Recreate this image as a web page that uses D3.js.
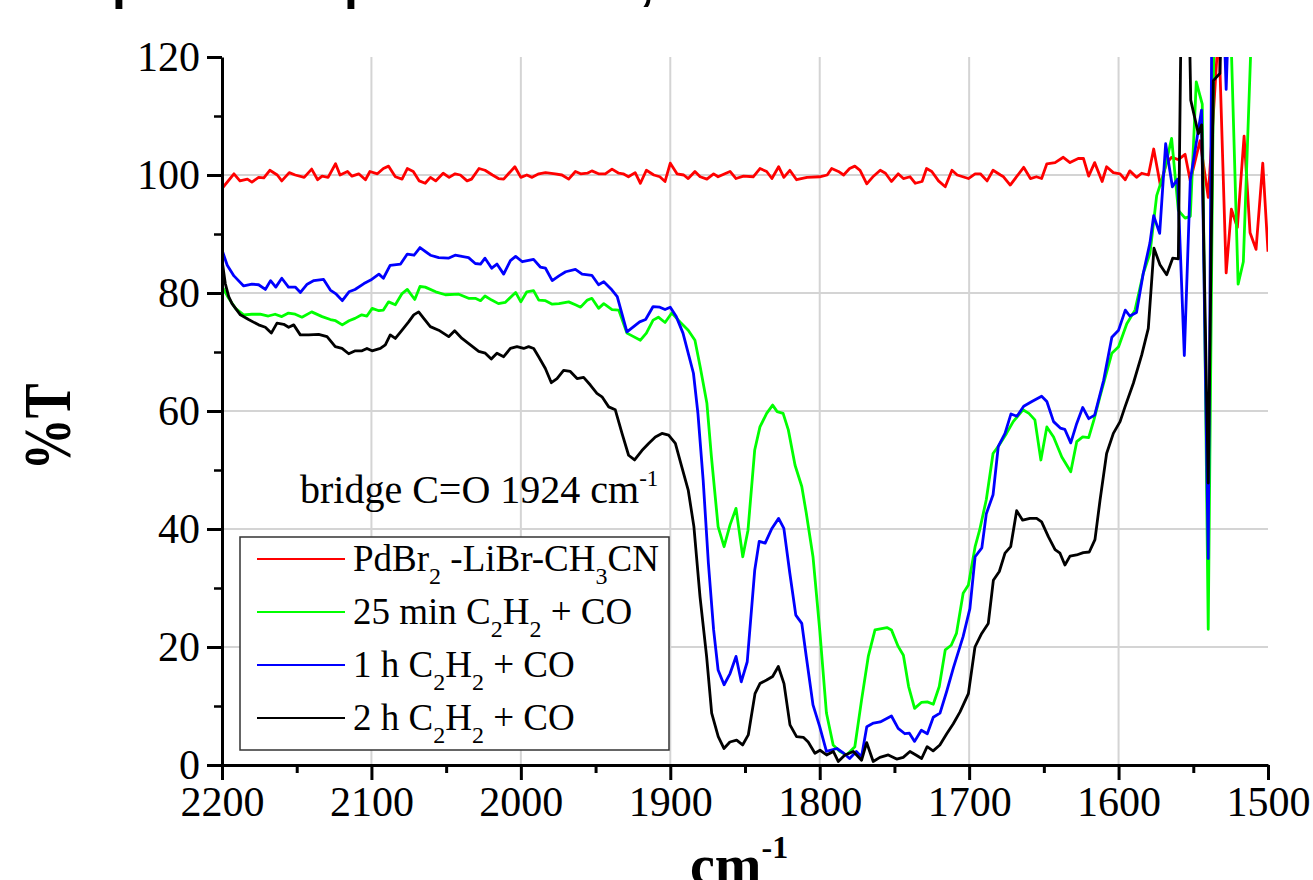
<!DOCTYPE html>
<html>
<head>
<meta charset="utf-8">
<script src="https://cdn.jsdelivr.net/npm/d3@7"></script>
<style>
  body { margin: 0; background: #fff; }
  svg { display: block; }
  svg text { font-family: "Liberation Serif", "Times New Roman", serif; }
  svg text.title-bit { font-family: "Liberation Sans", Arial, sans-serif; }
</style>
</head>
<body>
<div id="chart"></div>
<script>
"use strict";

// Axis ticks
const xTicks = [2200, 2100, 2000, 1900, 1800, 1700, 1600, 1500];
const xMinorTicks = [2150, 2050, 1950, 1850, 1750, 1650, 1550];
const yTicks = [0, 20, 40, 60, 80, 100, 120];
const yMinorTicks = [10, 30, 50, 70, 90, 110];

// Spectra: [wavenumber cm-1, %T]
const pdbrData = [
    [2200, 97.7], [2192, 100.2], [2188, 99.0], [2183, 99.3], [2180, 98.8], [2175.5, 99.6], [2172, 99.5], [2168, 100.8],
    [2163, 100], [2160, 99.0], [2155, 100.4], [2151, 100], [2145, 99.6], [2140, 101], [2136, 99.2], [2133, 99.8],
    [2129, 99.6], [2124, 101.9], [2121, 100], [2116, 100.6], [2113, 99.8], [2108.5, 100.2], [2104, 99.2], [2101, 100.6],
    [2096, 100.2], [2092, 101.1], [2088.5, 101.5], [2084, 99.7], [2079.5, 99.3], [2076, 101.1], [2072, 100.6], [2068, 99.0],
    [2064, 98.6], [2060.5, 99.6], [2057, 99.0], [2052, 100.3], [2048, 99.6], [2044, 100.2], [2040.5, 100], [2036, 99.0],
    [2033, 99.3], [2028, 101.1], [2024, 100.8], [2019, 100], [2015, 99.4], [2011.5, 99.3], [2008, 100.3], [2004, 101.4],
    [2000, 99.6], [1996, 100], [1992.5, 99.6], [1988, 100.2], [1983.5, 100.4], [1977, 100.2], [1972.5, 100], [1968, 99.3],
    [1963.5, 100.6], [1960, 100.2], [1955.5, 100.3], [1952.5, 100.7], [1948, 100.2], [1943.5, 100.2], [1939, 101], [1934.5, 100.3],
    [1931.5, 100.2], [1928, 99.7], [1923.5, 100.4], [1920, 98.6], [1916, 100.8], [1911, 100], [1907, 99.7], [1903.5, 98.9],
    [1900, 102], [1895.5, 100.2], [1891, 100], [1888, 99.4], [1883.5, 100.6], [1880, 99.7], [1875.5, 99.3], [1871, 100.2],
    [1868, 99.7], [1863.5, 100.2], [1860, 100.6], [1856, 99.4], [1851, 99.8], [1844.5, 99.7], [1840, 101.1], [1835.5, 100.6],
    [1832, 99.4], [1827.5, 101.4], [1824, 99.6], [1820, 100.8], [1815.5, 99.2], [1808.5, 99.6], [1800, 99.7], [1795, 100],
    [1792, 101.1], [1787.5, 100.6], [1784, 100], [1780, 101.1], [1776.5, 101.5], [1773, 100.8], [1768.5, 98.5], [1764, 99.8],
    [1759.5, 100.8], [1756, 100.3], [1752, 98.9], [1747.5, 100.2], [1744, 99.4], [1739.5, 99.7], [1736, 98.6], [1731.5, 98.9],
    [1728.5, 101.1], [1725, 100.6], [1720.5, 99.0], [1716, 98.0], [1711.5, 100.8], [1708, 100], [1700.5, 99.4], [1696, 100.2],
    [1692.5, 100.2], [1688, 99.0], [1684, 100.8], [1679, 100], [1677, 99.7], [1672.5, 98.3], [1668, 99.8], [1663.5, 101.3],
    [1659, 99.4], [1655, 99.7], [1651.5, 99.4], [1648, 101.9], [1642.5, 102.1], [1637, 103], [1632.5, 102.1], [1627, 102.8],
    [1623.5, 102.8], [1620, 99.8], [1616, 102.1], [1611, 98.9], [1608, 101.4], [1603.5, 100.4], [1599, 100.2], [1595.5, 99.2],
    [1592.5, 100.7], [1588, 99.6], [1584.5, 100.3], [1580, 100], [1576.5, 104.4], [1572, 98.2], [1568, 102], [1564.5, 103],
    [1560, 102.6], [1555.5, 103.5], [1552, 99], [1545.5, 105.8], [1540, 96.2], [1533, 125], [1528, 83.4], [1524.5, 94.2],
    [1520.5, 91.1], [1516, 106.6], [1512, 90.2], [1508, 87.4], [1503.5, 102], [1500, 87]
];

const min25Data = [
    [2200, 81.1], [2195.5, 79.1], [2191, 77.4], [2185.5, 76.3], [2180, 76.4], [2174.5, 76.4], [2169, 76.1], [2164.5, 76.4],
    [2160, 76], [2155.5, 76.6], [2151, 76.4], [2146.5, 75.9], [2140, 76.8], [2133, 76], [2127.5, 75.5], [2124, 75.3],
    [2119.5, 74.6], [2115, 75.3], [2111, 75.7], [2106.5, 76.3], [2103, 76.1], [2099.5, 77.4], [2095, 77], [2092, 77.1],
    [2088.5, 78.5], [2084, 78], [2079.5, 79.9], [2076, 80.6], [2071, 78.9], [2067.5, 81.1], [2064, 81], [2057, 80.2],
    [2050.5, 79.7], [2041.5, 79.8], [2035, 79.1], [2030.5, 79.1], [2027, 78.7], [2024, 79.5], [2019.5, 78.8], [2015, 78.2],
    [2010.5, 78.4], [2003.5, 80.1], [2000, 78.5], [1996, 80.2], [1991.5, 80.4], [1988, 78.8], [1983.5, 78.7], [1979, 78.1],
    [1974.5, 78.2], [1968, 78.5], [1963.5, 78], [1960, 77.6], [1955.5, 78.8], [1952.5, 79.1], [1948, 77.4], [1944.5, 78.2],
    [1939, 77.2], [1934.5, 77.1], [1929, 73.2], [1920, 72], [1916, 73.2], [1911.5, 75.4], [1908, 75.9], [1903.5, 75],
    [1899, 76.6], [1893.5, 75.1], [1888, 73.7], [1883.5, 72], [1880, 67.5], [1875.5, 61.3], [1872.5, 52.3], [1868, 40.4],
    [1864, 37], [1860, 40.7], [1856, 43.5], [1851.5, 35.3], [1848, 39.8], [1843.5, 53.4], [1840, 57.3], [1835.5, 59.6],
    [1831.5, 61], [1828.5, 59.9], [1824.5, 59.6], [1821, 56.8], [1816.5, 50.8], [1812, 47.2], [1809, 42.7], [1804.5, 35.3],
    [1800, 22.9], [1795.5, 8.8], [1791, 3.4], [1786.5, 2.3], [1782, 1.7], [1776.5, 3.1], [1772, 11], [1767.5, 18.4],
    [1763, 22.9], [1755, 23.3], [1752, 22.9], [1747.5, 20.1], [1744, 18.6], [1740.5, 13.3], [1736.5, 9.6], [1732, 10.6],
    [1728, 10.7], [1724, 10.3], [1720, 13.3], [1716, 19.5], [1712, 20.3], [1708.5, 22.3], [1704, 29.1], [1700.5, 30.5],
    [1696, 37], [1693, 39.8], [1688.5, 45], [1684, 52.8], [1680.5, 54], [1675, 56.2], [1670.5, 58.2], [1664, 60.2],
    [1660, 59.6], [1656, 58.5], [1652, 51.7], [1648, 57.3], [1643.5, 55.6], [1638, 52.2], [1632, 49.7], [1628, 54.8],
    [1624, 55.6], [1620, 55.5], [1616.5, 58.5], [1612.5, 62.4], [1604.5, 69.8], [1600, 70.9], [1594.5, 74.8], [1589, 77.1],
    [1583.5, 83.3], [1579, 86.7], [1574.5, 96.5], [1570, 100], [1564.5, 106.2], [1560, 94], [1555.5, 92.7], [1552, 93],
    [1548, 115.8], [1544, 112], [1540, 23], [1536, 130], [1525.5, 130], [1520, 81.5], [1516.5, 85.3], [1511, 125], [1500, 140]
];

const h1Data = [
    [2200, 87.3], [2196.5, 84.7], [2192, 82.9], [2185.5, 81.2], [2180, 81.5], [2175.5, 81.4], [2171, 80.6], [2167.5, 82.1],
    [2164, 81], [2160, 82.5], [2155.5, 81], [2151, 81], [2147.5, 80.1], [2143, 81.5], [2138.5, 82.1], [2132, 82.3],
    [2127.5, 80.5], [2123.5, 79.8], [2119.5, 78.7], [2115, 80.2], [2111, 80.6], [2105, 81.6], [2100.5, 82.2], [2095, 83.2],
    [2092, 82.5], [2087.5, 84.7], [2080.5, 84.9], [2076, 86.6], [2071.5, 86.4], [2067.5, 87.7], [2060.5, 86.4], [2055, 86],
    [2048.5, 85.9], [2044, 86.4], [2035, 86], [2030.5, 85], [2027, 84.9], [2024, 85.9], [2019.5, 84.2], [2016, 84.9],
    [2011.5, 83.2], [2007, 85.5], [2003.5, 86.2], [1999, 85.3], [1991.5, 85.7], [1987, 84.4], [1983.5, 84.2], [1979, 82.1],
    [1974.5, 82.9], [1970, 83.6], [1963.5, 84], [1959, 83.2], [1952.5, 83], [1948, 81.4], [1944.5, 81.9], [1939, 80.5],
    [1935.5, 79.4], [1929, 73.4], [1920.5, 75.1], [1916.5, 75.5], [1911.5, 77.7], [1907, 77.6], [1903.5, 77.2], [1900, 77.6],
    [1896, 76], [1891.5, 73.2], [1884.5, 66.4], [1881.5, 59.6], [1878, 48.3], [1874.5, 34.2], [1871, 22.9], [1868, 16.1],
    [1864, 13.6], [1860, 15.5], [1856, 18.4], [1852.5, 14.1], [1848.5, 17.5], [1843.5, 33], [1840.5, 37.9], [1836.5, 37.6],
    [1832, 40.1], [1827.5, 41.8], [1824, 40.1], [1820, 32.5], [1816, 25.4], [1812, 24], [1809, 18.4], [1804.5, 10.2],
    [1800, 6.5], [1795.5, 2.3], [1788.5, 2.8], [1784, 2], [1780, 1.1], [1775.5, 2.3], [1772, 1.4], [1768.5, 6.5],
    [1764, 7.1], [1759.5, 7.3], [1752, 8.3], [1747.5, 6.2], [1743, 5.3], [1740, 5.4], [1736.5, 4], [1732, 5.9],
    [1728, 5.3], [1724, 8.1], [1719.5, 8.8], [1715, 12.5], [1710.5, 16.5], [1704, 21.8], [1699.5, 26.5], [1696, 35.3],
    [1691.5, 36.8], [1688.5, 42.6], [1684, 45.8], [1680.5, 54], [1676, 56.2], [1672, 59.5], [1668, 59.1], [1663.5, 60.8],
    [1658, 61.6], [1651.5, 62.5], [1648, 61.6], [1643.5, 58.2], [1639, 57.1], [1636, 56.9], [1632, 54.6], [1628, 57.9],
    [1624, 60.6], [1620, 58.7], [1616, 59.3], [1610, 65.2], [1604.5, 72.5], [1600, 73.7], [1595.5, 77.1], [1592.5, 76.1],
    [1588, 76.7], [1583.5, 83.3], [1579, 88.5], [1576.5, 93.1], [1572.5, 90.1], [1568.5, 105.3], [1564, 98], [1560.5, 99.3],
    [1556, 69.4], [1552, 99.1], [1544.5, 111], [1540, 35], [1537.5, 130], [1530, 130], [1528, 114.5], [1526, 130], [1500, 135]
];

const h2Data = [
    [2200, 85.6], [2197.8, 81.6], [2195.5, 79.4], [2193.3, 78.2], [2187.7, 76.3], [2182.2, 75.5], [2175.5, 74.6], [2171, 74.2],
    [2167, 73.2], [2163.2, 74.9], [2158.7, 74.7], [2155.4, 74.2], [2152, 74.6], [2147.6, 72.9], [2142, 72.9], [2135.3, 73],
    [2129.7, 72.6], [2124.2, 70.9], [2119.7, 70.6], [2115.2, 69.7], [2110.8, 70.2], [2106.3, 70.2], [2103, 70.6], [2099.6, 70.2],
    [2094, 70.6], [2090.7, 71.2], [2087.4, 72.9], [2084, 72.3], [2079.5, 73.7], [2075.1, 75.1], [2071.7, 76.3], [2068.4, 76.8],
    [2065, 75.7], [2060.6, 74.3], [2055, 73.7], [2048.3, 72.6], [2044.3, 73.6], [2039.4, 72.3], [2033.8, 71.2], [2028.2, 70.1],
    [2023.8, 69.8], [2019.8, 68.8], [2016, 69.8], [2011.5, 69.2], [2007, 70.6], [2002.6, 70.9], [1998.1, 70.6], [1994.8, 70.9],
    [1991.4, 70.6], [1988.1, 69.2], [1983.6, 67.2], [1979.6, 64.8], [1975.8, 65.5], [1971.4, 66.9], [1966.9, 66.7], [1962.4, 65.5],
    [1958, 65.7], [1953.5, 64.4], [1949.1, 63], [1945.7, 62.4], [1941.2, 60.7], [1936.8, 60.2], [1932.3, 56.2], [1927.9, 52.5],
    [1923.9, 51.7], [1919, 53.3], [1914.5, 54.5], [1910, 55.6], [1905.6, 56.2], [1901.1, 55.9], [1896.6, 54.5], [1892.4, 50.6],
    [1888, 46.6], [1884.2, 40.4], [1880.1, 28.5], [1875.7, 18.4], [1872.3, 8.8], [1867.9, 4.8], [1864.1, 2.8], [1860.1, 3.9],
    [1855.6, 4.2], [1851.6, 3.4], [1847.8, 5.1], [1843.3, 12.1], [1840, 13.8], [1835.5, 14.4], [1831.5, 15], [1827.7, 16.7],
    [1823.9, 13.8], [1819.9, 6.8], [1815.5, 4.8], [1811, 4.7], [1807.7, 3.9], [1803.2, 2.0], [1799.8, 2.5], [1795.4, 1.7],
    [1790.9, 2.3], [1787.6, 0.6], [1783.1, 1.7], [1777.5, 2.3], [1772, 0.8], [1768.6, 3.8], [1764.2, 0.6], [1759.7, 1.3],
    [1754.1, 1.7], [1748.5, 1.0], [1744.1, 1.3], [1739.6, 2.3], [1735.6, 1.7], [1731.8, 1.1], [1728.1, 3.1], [1724.1, 2.4],
    [1719.6, 3.4], [1715, 5.3], [1710.6, 7], [1706.1, 9], [1700.5, 12.1], [1696.1, 20], [1691.6, 22.3], [1687.2, 24],
    [1683.8, 31.3], [1679.8, 32.8], [1676, 35.9], [1672.2, 37], [1668.2, 43.1], [1664.2, 41.5], [1659.3, 41.8], [1654.8, 41.8],
    [1651.5, 41.2], [1647, 38.7], [1642.5, 36.5], [1639.2, 35.9], [1635.9, 33.9], [1632.5, 35.4], [1628.1, 35.6], [1623.6, 36],
    [1619.6, 36.1], [1615.8, 38.2], [1612.4, 44.9], [1608, 52.8], [1603.5, 56.2], [1599, 58.2], [1595.7, 60.7], [1590.1, 64.7],
    [1584.5, 69.5], [1580.1, 74], [1576.3, 87.6], [1572.3, 84.8], [1567.8, 83.1], [1563.8, 85.9], [1560, 85.8], [1557.8, 135],
    [1553.3, 135], [1551.7, 112.7], [1546.6, 107], [1544.4, 108.5], [1540, 47.8], [1536.6, 116], [1532.2, 117.2], [1530, 135],
    [1500, 140]
];

const seriesData = [pdbrData, min25Data, h1Data, h2Data];
const seriesColors = ["#ff0000", "#00ff00", "#0000ff", "#000000"];

// Legend labels, split into normal / subscript pieces
const legendLabels = [
    [["PdBr", ""], ["2", "sub"], [" -LiBr-CH", ""], ["3", "sub"], ["CN", ""]],
    [["25 min C", ""], ["2", "sub"], ["H", ""], ["2", "sub"], [" + CO", ""]],
    [["1 h C", ""], ["2", "sub"], ["H", ""], ["2", "sub"], [" + CO", ""]],
    [["2 h C", ""], ["2", "sub"], ["H", ""], ["2", "sub"], [" + CO", ""]]
];

const svgWidth = 1313;
const svgHeight = 880;

const svg = d3.select("#chart")
    .append("svg")
    .attr("width", svgWidth)
    .attr("height", svgHeight)
    .style("background", "#fff");

// Scales (wavenumber runs right to left)
const x = d3.scaleLinear().domain([2200, 1500]).range([222, 1268]);
const y = d3.scaleLinear().domain([0, 120]).range([765, 57]);

// Cut-off title above the chart (only descenders visible)
const titleBits = [["p", 112], ["p", 344], [",", 640]];
svg.selectAll(".title-bit")
    .data(titleBits)
    .enter().append("text")
    .attr("class", "title-bit")
    .attr("x", d => d[1])
    .attr("y", -1)
    .attr("font-size", 50)
    .attr("font-weight", "bold")
    .text(d => d[0]);

// Grid
const grid = svg.append("g").attr("stroke", "#d4d4d4").attr("stroke-width", 2);
grid.selectAll(".vgrid")
    .data(xTicks.filter(d => d !== 2200 && d !== 1500))
    .enter().append("line")
    .attr("x1", d => x(d)).attr("x2", d => x(d))
    .attr("y1", y(120)).attr("y2", y(0));
grid.selectAll(".hgrid")
    .data(yTicks.filter(d => d !== 0 && d !== 120))
    .enter().append("line")
    .attr("x1", x(2200)).attr("x2", x(1500))
    .attr("y1", d => y(d)).attr("y2", d => y(d));

// Clip for the spectra
svg.append("clipPath").attr("id", "plotClip")
    .append("rect")
    .attr("x", x(2200)).attr("y", y(120))
    .attr("width", x(1500) - x(2200)).attr("height", y(0) - y(120) + 4);

const line = d3.line()
    .x(d => x(d[0]))
    .y(d => y(d[1]));

svg.append("g")
    .attr("clip-path", "url(#plotClip)")
    .selectAll(".spectrum")
    .data(seriesData)
    .enter().append("path")
    .attr("class", "spectrum")
    .attr("fill", "none")
    .attr("stroke", (d, i) => seriesColors[i])
    .attr("stroke-width", 2.8)
    .attr("stroke-linejoin", "round")
    .attr("d", line);

// Axes
const styleAxis = (g, size) => {
    g.attr("font-size", size);
    g.selectAll("text").attr("fill", "#000");
    g.selectAll("line").attr("stroke", "#000").attr("stroke-width", 3);
    g.select(".domain").attr("stroke", "#000").attr("stroke-width", 3);
};

const xAxis = svg.append("g")
    .attr("transform", `translate(0,${y(0)})`)
    .call(d3.axisBottom(x).tickValues(xTicks).tickFormat(d3.format("d"))
        .tickSize(15).tickSizeOuter(0).tickPadding(6));
styleAxis(xAxis, 42);

const xMinor = svg.append("g")
    .attr("transform", `translate(0,${y(0)})`)
    .call(d3.axisBottom(x).tickValues(xMinorTicks).tickFormat("").tickSize(8));
xMinor.select(".domain").remove();
xMinor.selectAll("line").attr("stroke", "#000").attr("stroke-width", 3);

const yAxis = svg.append("g")
    .attr("transform", `translate(${x(2200)},0)`)
    .call(d3.axisLeft(y).tickValues(yTicks).tickFormat(d3.format("d"))
        .tickSize(15).tickSizeOuter(0).tickPadding(7));
styleAxis(yAxis, 42);

const yMinor = svg.append("g")
    .attr("transform", `translate(${x(2200)},0)`)
    .call(d3.axisLeft(y).tickValues(yMinorTicks).tickFormat("").tickSize(8));
yMinor.select(".domain").remove();
yMinor.selectAll("line").attr("stroke", "#000").attr("stroke-width", 2.5);

// Axis titles
svg.append("text")
    .attr("transform", "translate(70,427) rotate(-90) scale(1,1.3)")
    .attr("text-anchor", "middle")
    .attr("font-size", 52)
    .attr("font-weight", "bold")
    .text("%T");

const xTitle = svg.append("text")
    .attr("x", 690)
    .attr("y", 884)
    .attr("font-size", 56)
    .attr("font-weight", "bold");
xTitle.append("tspan").text("cm");
xTitle.append("tspan").attr("font-size", 32).attr("dy", -26).text("-1");

// Annotation
const note = svg.append("text")
    .attr("x", 300)
    .attr("y", 503)
    .attr("font-size", 40);
note.append("tspan").text("bridge C=O 1924 cm");
note.append("tspan").attr("font-size", 23).attr("dy", -17).text("-1");

// Legend
const legend = svg.append("g");
legend.append("rect")
    .attr("x", 240).attr("y", 537)
    .attr("width", 429).attr("height", 213)
    .attr("fill", "#fff")
    .attr("stroke", "#333")
    .attr("stroke-width", 1.5);

const rowY = i => 571 + i * 53;

legend.selectAll(".legend-line")
    .data(seriesColors)
    .enter().append("line")
    .attr("x1", 257).attr("x2", 345)
    .attr("y1", (d, i) => rowY(i) - 12).attr("y2", (d, i) => rowY(i) - 12)
    .attr("stroke", d => d)
    .attr("stroke-width", 2);

legendLabels.forEach((parts, i) => {
    const t = legend.append("text")
        .attr("x", 353)
        .attr("y", rowY(i))
        .attr("font-size", 37);
    let shifted = false;
    parts.forEach(([str, kind]) => {
        const span = t.append("tspan").text(str);
        if (kind === "sub") {
            span.attr("font-size", 24).attr("dy", 13);
            shifted = true;
        } else if (shifted) {
            span.attr("dy", -13);
            shifted = false;
        }
    });
});
</script>
</body>
</html>
